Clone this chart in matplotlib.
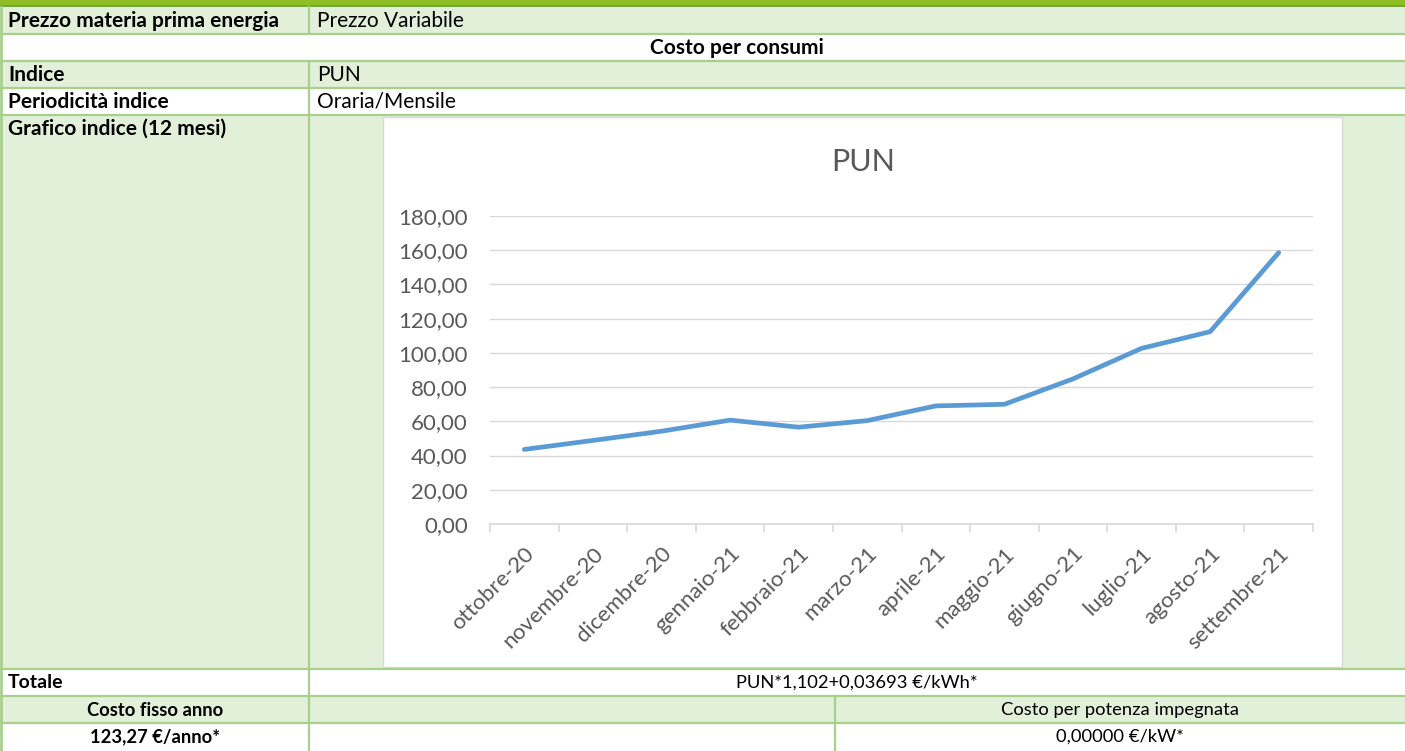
import matplotlib
matplotlib.use("Agg")
import matplotlib.pyplot as plt
from matplotlib.patches import Rectangle
from matplotlib.ticker import FuncFormatter, FixedLocator
import numpy as np

# ---------------- data ----------------
months = ["ottobre-20", "novembre-20", "dicembre-20", "gennaio-21", "febbraio-21",
          "marzo-21", "aprile-21", "maggio-21", "giugno-21", "luglio-21",
          "agosto-21", "settembre-21"]
pun = [43.57, 48.83, 54.22, 60.71, 56.57, 60.42, 69.02, 69.96, 84.80, 102.65, 112.40, 158.59]
y_ticks = [0, 20, 40, 60, 80, 100, 120, 140, 160, 180]

row_labels = ["Prezzo materia prima energia", "Indice", "Periodicità indice",
              "Grafico indice (12 mesi)", "Totale"]
row_values = ["Prezzo Variabile", "PUN", "Oraria/Mensile"]
section_title = "Costo per consumi"
totale_value = "PUN*1,102+0,03693 €/kWh*"
fisso_label = "Costo fisso anno"
fisso_value = "123,27 €/anno*"
potenza_label = "Costo per potenza impegnata"
potenza_value = "0,00000 €/kW*"

# ---------------- figure ----------------
W, H = 1405, 751
fig = plt.figure(figsize=(W / 100, H / 100), dpi=100)
bg = fig.add_axes([0, 0, 1, 1])
bg.set_xlim(0, W)
bg.set_ylim(H, 0)
bg.axis("off")

FILL = "#e2efd9"
LINE = "#a8d08d"
TXT = "#000000"
FONT = "Lato"

def rect(x0, y0, x1, y1, color, ec="none", lw=0, z=1):
    bg.add_patch(Rectangle((x0, y0), x1 - x0, y1 - y0, facecolor=color,
                           edgecolor=ec, linewidth=lw, zorder=z))

rows = [7, 34, 61, 88, 115, 669, 696, 723, 751]
fills = [FILL, "white", FILL, "white", FILL, "white", FILL, "white"]
for i, c in enumerate(fills):
    rect(0, rows[i], W, rows[i + 1], c)

# top header bar
rect(0, 0, W, 5, "#8fbe25")
rect(0, 5, W, 7, "#6ea93a")

# chart box
rect(383, 117, 1342, 667, "white", ec="#d9d9d9", lw=1.0, z=2)

# horizontal lines
for y in rows[1:-1]:
    bg.plot([0, W], [y, y], color=LINE, lw=1.6, zorder=3)
# vertical lines
bg.plot([1, 1], [7, H], color=LINE, lw=2, zorder=3)
bg.plot([309, 309], [7, 34], color=LINE, lw=1.6, zorder=3)
bg.plot([309, 309], [61, H], color=LINE, lw=1.6, zorder=3)
bg.plot([835, 835], [696, H], color=LINE, lw=1.6, zorder=3)

def t(x, y, s, bold=False, ha="left", fs=15):
    bg.text(x, y, s, fontsize=fs, family=FONT, fontweight="bold" if bold else "normal",
            ha=ha, va="center", color=TXT, zorder=4)

t(8, 21, row_labels[0], bold=True)
t(317, 21, row_values[0])
t(737, 48, section_title, bold=True, ha="center")
t(8, 75, row_labels[1], bold=True)
t(317, 75, row_values[1])
t(8, 102, row_labels[2], bold=True)
t(317, 102, row_values[2])
t(8, 129, row_labels[3], bold=True)
t(8, 683, row_labels[4], bold=True, fs=14)
t(857, 683, totale_value, ha="center", fs=13.2)
t(155, 710, fisso_label, bold=True, ha="center", fs=13.2)
t(1120, 710, potenza_label, ha="center", fs=13.2)
t(155, 737, fisso_value, bold=True, ha="center", fs=13.2)
t(1120, 737, potenza_value, ha="center", fs=13.2)

# ---------------- chart ----------------
bg.text(863, 162, "PUN", fontsize=22, family=FONT, color="#595959",
        ha="center", va="center", zorder=4)

ax = fig.add_axes([490 / W, (H - 524) / H, (1313 - 490) / W, (524 - 216) / H])
ax.set_facecolor("none")
x = np.arange(len(months))
ax.plot(x, pun, color="#5b9bd5", lw=3.4, solid_capstyle="round",
        solid_joinstyle="round", zorder=3)
ax.set_xlim(-0.5, len(months) - 0.5)
ax.set_ylim(y_ticks[0], y_ticks[-1])
ax.set_yticks(y_ticks)
ax.yaxis.set_major_formatter(FuncFormatter(lambda v, p: f"{v:.2f}".replace(".", ",")))
ax.grid(axis="y", color="#d9d9d9", lw=1.0)
ax.set_axisbelow(True)
for s in ["top", "right", "left"]:
    ax.spines[s].set_visible(False)
ax.spines["bottom"].set_color("#d9d9d9")
ax.spines["bottom"].set_linewidth(1.2)
ax.tick_params(axis="y", length=0, pad=16, labelsize=16, labelcolor="#595959")
for lab in ax.get_yticklabels():
    lab.set_family(FONT)
ax.set_xticks(x)
ax.set_xticklabels(months, rotation=45, ha="right", rotation_mode="anchor",
                   fontsize=16, color="#595959", family=FONT)
ax.tick_params(axis="x", which="major", length=0, pad=14)
ax.xaxis.set_minor_locator(FixedLocator(np.arange(-0.5, len(months), 1)))
ax.tick_params(axis="x", which="minor", length=6, color="#d9d9d9", width=1.2)

fig.savefig("out.png", dpi=100)
